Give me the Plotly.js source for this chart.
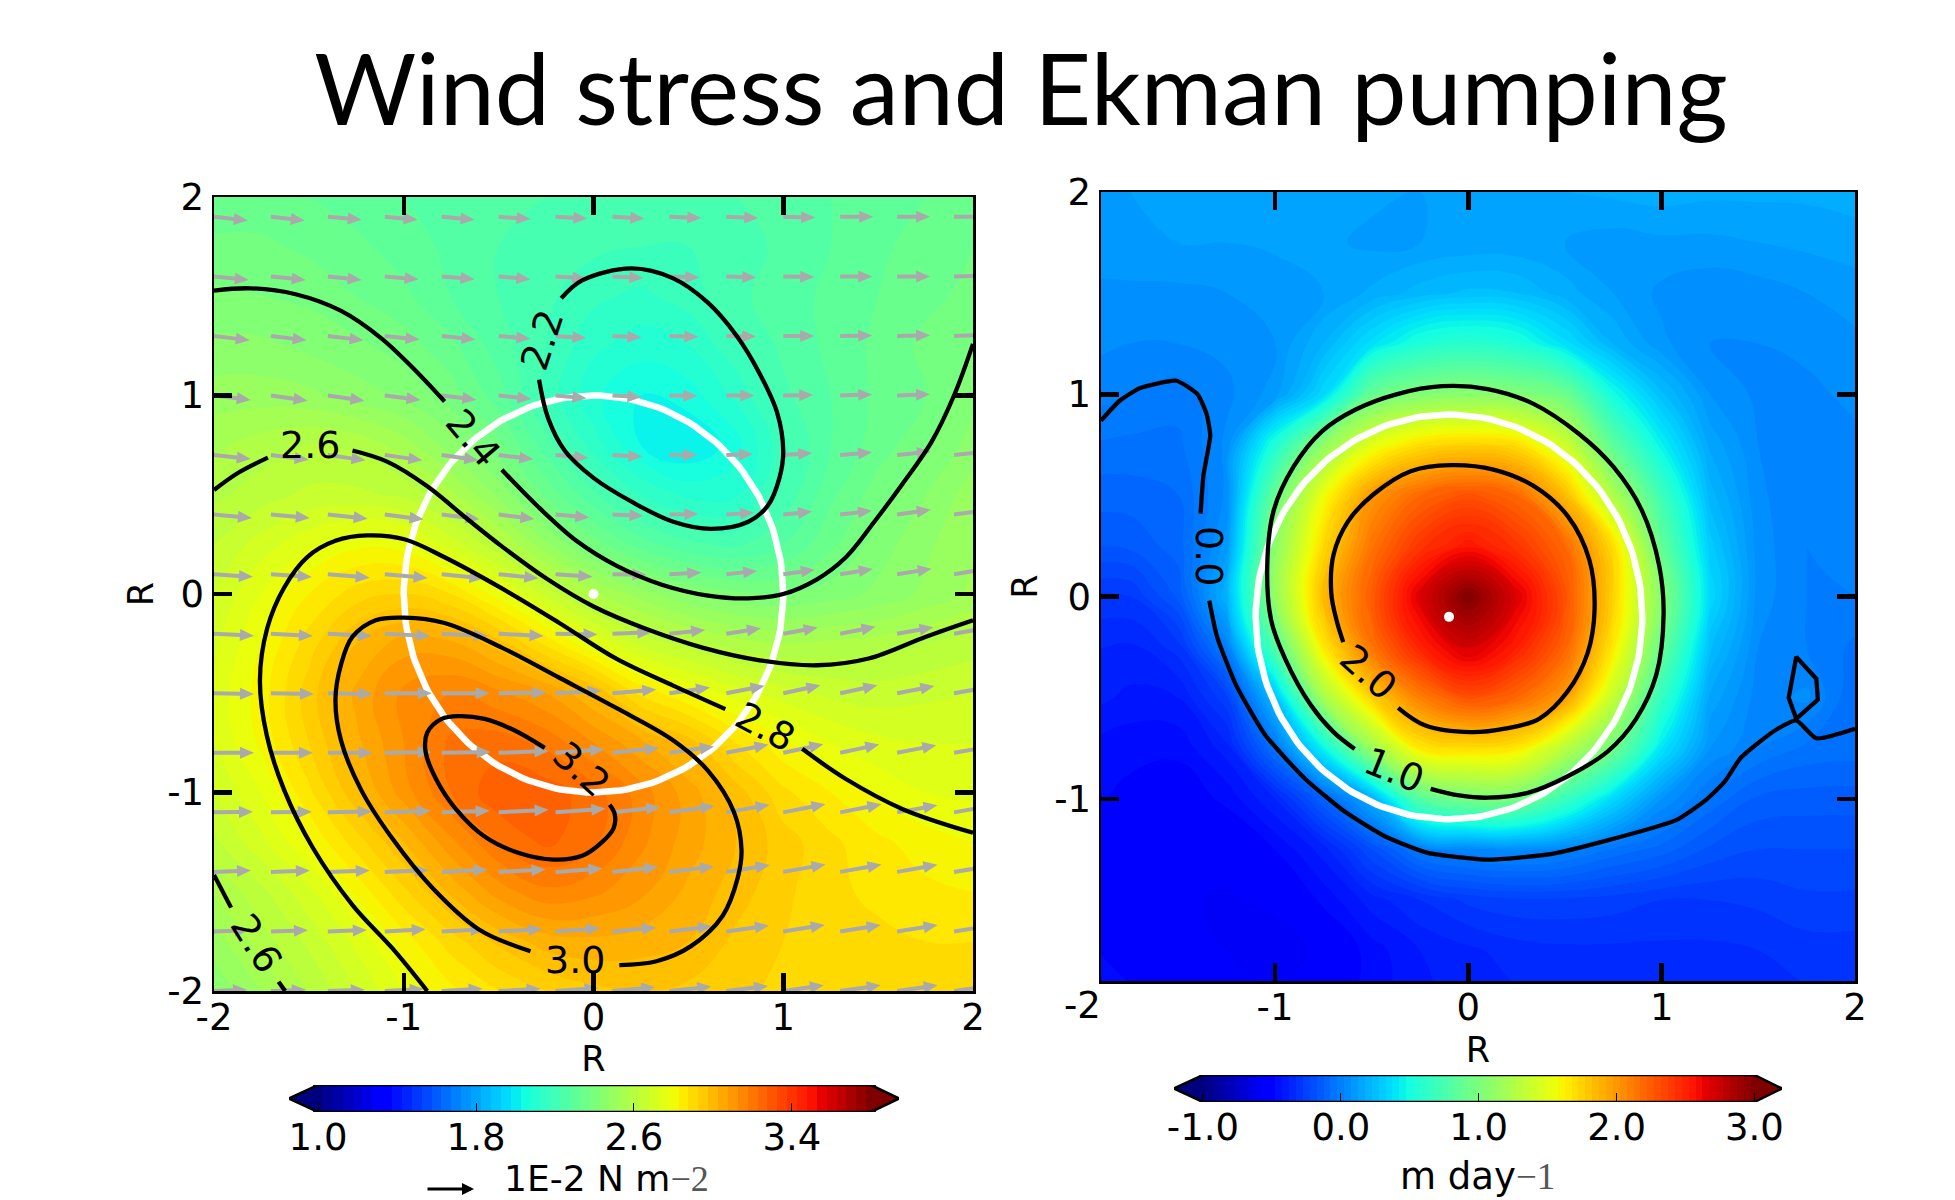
<!DOCTYPE html>
<html><head><meta charset="utf-8">
<script src="https://cdn.plot.ly/plotly-3.0.1.min.js"></script>
<style>html,body{margin:0;padding:0;background:#fff}</style></head>
<body><div id="chart" style="width:1955px;height:1200px"></div>
<script>
// ---------- data ----------
const gridX=[-2,-1.75,-1.5,-1.25,-1,-.75,-.5,-.25,0,.25,.5,.75,1,1.25,1.5,1.75,2];
const gridY=[2,1.75,1.5,1.25,1,.75,.5,.25,0,-.25,-.5,-.75,-1,-1.25,-1.5,-1.75,-2];
const stressZ=[
[2.33,2.33,2.32,2.30,2.28,2.26,2.25,2.24,2.23,2.23,2.23,2.24,2.26,2.28,2.30,2.32,2.34],
[2.37,2.37,2.35,2.33,2.30,2.27,2.24,2.22,2.21,2.20,2.20,2.22,2.25,2.28,2.31,2.34,2.36],
[2.41,2.40,2.39,2.36,2.33,2.28,2.24,2.21,2.17,2.15,2.18,2.23,2.26,2.29,2.32,2.35,2.37],
[2.45,2.45,2.43,2.41,2.38,2.33,2.26,2.20,2.13,2.10,2.12,2.19,2.25,2.29,2.33,2.37,2.40],
[2.50,2.50,2.49,2.46,2.43,2.38,2.30,2.19,2.09,2.04,2.06,2.13,2.23,2.28,2.33,2.36,2.43],
[2.55,2.58,2.60,2.59,2.54,2.46,2.37,2.26,2.14,2.04,2.00,2.06,2.19,2.28,2.34,2.39,2.46],
[2.59,2.62,2.65,2.65,2.63,2.57,2.47,2.35,2.25,2.16,2.11,2.11,2.21,2.31,2.38,2.44,2.50],
[2.64,2.70,2.75,2.79,2.78,2.70,2.61,2.49,2.38,2.30,2.25,2.23,2.28,2.35,2.42,2.47,2.52],
[2.68,2.76,2.84,2.90,2.92,2.88,2.78,2.67,2.57,2.50,2.44,2.41,2.40,2.42,2.45,2.49,2.53],
[2.71,2.80,2.90,3.00,3.06,3.05,2.98,2.87,2.76,2.67,2.62,2.58,2.56,2.57,2.58,2.60,2.62],
[2.73,2.82,2.94,3.05,3.13,3.16,3.13,3.08,3.00,2.87,2.80,2.74,2.70,2.67,2.66,2.67,2.68],
[2.72,2.81,2.92,3.03,3.12,3.21,3.22,3.19,3.12,3.05,2.98,2.88,2.81,2.76,2.73,2.72,2.72],
[2.68,2.76,2.87,2.99,3.10,3.20,3.27,3.26,3.22,3.14,3.06,2.98,2.89,2.84,2.79,2.76,2.75],
[2.63,2.71,2.80,2.90,3.00,3.11,3.20,3.25,3.21,3.13,3.06,3.00,2.94,2.89,2.85,2.82,2.80],
[2.56,2.63,2.71,2.81,2.91,3.01,3.10,3.15,3.13,3.09,3.03,2.98,2.93,2.89,2.87,2.85,2.84],
[2.50,2.58,2.65,2.73,2.82,2.90,2.97,3.02,3.03,3.02,3.00,2.95,2.92,2.90,2.89,2.88,2.88],
[2.45,2.52,2.60,2.68,2.76,2.83,2.88,2.92,2.95,2.96,2.95,2.93,2.91,2.90,2.90,2.90,2.90]];
const pumpZ=[
[.10,.12,.14,.15,.16,.15,.13,.12,.13,.14,.16,.17,.18,.17,.17,.17,.18],
[.10,.11,.12,.12,.13,.13,.11,.12,.13,.13,.12,.10,.11,.11,.12,.13,.14],
[.07,.07,.07,.08,.09,.12,.17,.22,.25,.24,.18,.12,.07,.05,.06,.08,.10],
[.05,.04,.04,.05,.08,.20,.38,.55,.60,.55,.38,.20,.09,.04,.04,.05,.07],
[.03,.00,-.02,.03,.10,.35,.90,1.03,1.07,1.04,.93,.50,.25,.08,.03,.03,.05],
[-.04,-.05,-.05,.05,.55,1.10,1.50,1.70,1.75,1.70,1.40,.85,.45,.15,.04,.02,.03],
[-.10,-.10,-.08,.05,.90,1.55,2.00,2.20,2.30,2.20,1.85,1.25,.70,.22,.05,.00,.03],
[-.15,-.15,-.10,.10,1.08,1.72,2.15,2.42,2.55,2.42,2.20,1.70,.88,.30,.06,.00,.02],
[-.28,-.28,-.15,.20,1.12,1.85,2.25,2.68,3.00,2.68,2.30,1.75,1.05,.35,.06,.00,.00],
[-.35,-.37,-.30,.00,.80,1.65,2.15,2.50,2.72,2.52,2.22,1.65,.90,.25,.04,.00,-.05],
[-.38,-.41,-.40,-.25,.25,1.20,1.75,2.10,2.30,2.20,1.98,1.35,.65,.15,.02,.05,-.08],
[-.44,-.47,-.47,-.38,-.05,.45,1.15,1.65,1.70,1.65,1.30,.95,.40,.08,.00,-.05,-.06],
[-.47,-.49,-.51,-.47,-.36,-.12,.18,.82,.98,.97,.68,.35,.08,-.05,-.13,-.14,-.14],
[-.49,-.51,-.53,-.53,-.48,-.38,-.20,-.02,.03,.05,.02,-.05,-.10,-.17,-.20,-.20,-.20],
[-.49,-.52,-.55,-.57,-.54,-.47,-.38,-.32,-.27,-.25,-.25,-.26,-.28,-.28,-.27,-.25,-.25],
[-.47,-.50,-.53,-.56,-.60,-.54,-.46,-.40,-.37,-.34,-.33,-.33,-.33,-.33,-.32,-.30,-.30],
[-.44,-.47,-.50,-.52,-.54,-.51,-.46,-.41,-.38,-.37,-.36,-.33,-.33,-.33,-.33,-.33,-.32]];

const arrowX=[-2,-1.7,-1.4,-1.1,-.8,-.5,-.2,.1,.4,.7,1,1.3,1.6,1.9];
const arrowY=[1.9,1.6,1.3,1,.7,.4,.1,-.2,-.5,-.8,-1.1,-1.4,-1.7,-2];
const arrowAngle=[
[-6,-6,-5,-5,-5,-4,-3,-3,-2,-2,-1,0,0,0],
[-6,-6,-6,-5,-5,-5,-4,-3,-2,-2,-1,0,0,1],
[-7,-7,-7,-6,-6,-5,-4,-3,-2,-1,0,1,1,2],
[-7,-8,-8,-7,-7,-6,-5,-3,-1,0,1,2,2,3],
[-6,-7,-8,-8,-8,-7,-5,-3,0,2,4,5,6,6],
[-5,-5,-6,-7,-7,-7,-5,-2,1,4,6,7,8,8],
[-4,-4,-5,-5,-6,-6,-4,-1,3,6,8,9,9,9],
[-3,-3,-3,-3,-3,-3,-1,2,6,9,10,11,10,10],
[-1,-1,-1,0,0,1,3,5,8,11,12,12,11,10],
[0,0,0,1,1,2,4,6,8,11,12,12,11,10],
[1,1,1,2,2,3,4,6,8,10,11,11,10,10],
[2,2,2,2,3,3,4,6,7,9,10,10,10,9],
[2,2,2,3,3,3,4,5,7,8,9,9,9,9],
[2,2,2,3,3,3,4,5,6,7,8,8,8,8]];
const arrowLen=[
[34,34,34,33,33,32,32,32,32,32,32,33,33,34],
[35,35,34,34,33,32,31,31,30,30,31,32,33,34],
[36,36,36,35,34,32,31,29,29,30,31,32,33,34],
[37,37,37,36,35,33,31,29,28,28,30,32,33,35],
[37,38,38,38,37,35,33,30,28,27,29,32,34,36],
[38,39,40,39,38,36,34,31,29,28,29,32,34,36],
[39,41,42,43,42,40,37,34,32,31,32,33,35,37],
[40,42,44,46,46,45,42,39,36,35,35,36,37,38],
[40,43,45,47,48,48,46,44,41,39,38,38,38,39],
[40,42,45,47,49,50,49,47,45,43,41,40,40,40],
[39,41,44,46,48,50,50,48,46,44,43,42,41,41],
[37,39,42,44,46,47,47,46,45,44,43,42,41,41],
[35,37,39,41,43,44,45,44,43,43,42,41,41,41],
[33,35,37,39,41,42,43,43,42,42,41,41,41,41]];

// contour lines, [x,y] pairs
const c22=[[-.17,1.49],[-.06,1.58],[.2,1.64],[.42,1.59],[.6,1.47],[.755,1.3],[.876,1.11],[.967,.916],[1,.72],[.98,.585],[.92,.447],[.816,.364],[.62,.328],[.42,.364],[.21,.46],[0,.585],[-.15,.72],[-.24,.888],[-.287,1.08]];
const c24a=[[-2,1.528],[-1.81,1.54],[-1.57,1.51],[-1.33,1.426],[-1.118,1.288],[-.95,1.137],[-.785,.97]];
const c24b=[[-.483,.626],[-.3,.447],[-.09,.268],[.12,.143],[.36,.047],[.604,-.008],[.816,-.022],[1,0],[1.178,.074],[1.33,.185],[1.48,.364],[1.63,.557],[1.78,.764],[1.9,1],[2,1.26]];
const c26a=[[-2,.524],[-1.87,.612],[-1.716,.687]];
const c26b=[[-1.27,.723],[-1.088,.667],[-.876,.543],[-.665,.378],[-.483,.24],[-.242,.074],[0,-.063],[.272,-.174],[.574,-.27],[.876,-.334],[1.178,-.359],[1.45,-.325],[1.752,-.215],[2,-.132]];
const c26c=[[-2,-1.415],[-1.91,-1.58]];
const c26d=[[-1.66,-1.953],[-1.625,-2]];
const c28a=[[1.1,-.78],[1.33,-.932],[1.63,-1.084],[2,-1.203]];
const c28b=[[.695,-.58],[.423,-.463],[.12,-.326],[-.18,-.146],[-.483,.028],[-.785,.185],[-.997,.276],[-1.193,.295],[-1.36,.268],[-1.51,.185],[-1.63,.033],[-1.72,-.174],[-1.758,-.436],[-1.722,-.712],[-1.63,-.988],[-1.48,-1.277],[-1.27,-1.567],[-1.057,-1.788],[-.876,-2]];
const c30=[[.136,-1.87],[.332,-1.85],[.514,-1.774],[.68,-1.622],[.76,-1.43],[.78,-1.29],[.74,-1.098],[.604,-.891],[.423,-.739],[.12,-.574],[-.18,-.422],[-.483,-.27],[-.785,-.146],[-.997,-.119],[-1.148,-.132],[-1.27,-.215],[-1.33,-.353],[-1.36,-.532],[-1.33,-.74],[-1.224,-.988],[-1.057,-1.236],[-.846,-1.484],[-.604,-1.69],[-.332,-1.8]];
const c32=[[-.257,-.775],[-.423,-.684],[-.574,-.629],[-.71,-.615],[-.8,-.629],[-.876,-.698],[-.885,-.794],[-.83,-.932],[-.725,-1.084],[-.574,-1.222],[-.393,-1.305],[-.21,-1.338],[-.06,-1.319],[.045,-1.25],[.106,-1.18],[.112,-1.11],[.085,-1.062]];

const p00a=[[-1.9,.87],[-1.805,.967],[-1.7,1.03],[-1.51,1.067],[-1.4,1],[-1.353,.9],[-1.335,.796],[-1.37,.6],[-1.385,.41]];
const p00b=[[-1.34,-.02],[-1.3,-.198],[-1.2,-.44],[-1.05,-.685],[-.845,-.9],[-.638,-1.064],[-.43,-1.186],[-.21,-1.267],[.1,-1.3],[.425,-1.273],[.72,-1.205],[1.075,-1.105],[1.223,-1.01],[1.326,-.915],[1.406,-.8],[1.504,-.72],[1.592,-.658],[1.696,-.612],[1.8,-.7],[2,-.653]];
const p00c=[[1.696,-.604],[1.657,-.5],[1.696,-.298],[1.8,-.406],[1.808,-.509],[1.696,-.604]];
const p10=[[-.195,-.95],[-.047,-.983],[.1,-.994],[.307,-.97],[.514,-.888],[.72,-.766],[.868,-.604],[.972,-.387],[1.01,-.089],[.987,.154],[.898,.425],[.75,.642],[.573,.804],[.337,.953],[.1,1.026],[-.136,1.04],[-.372,1],[-.58,.926],[-.756,.818],[-.904,.642],[-1.007,.425],[-1.04,.154],[-1.02,-.116],[-.948,-.306],[-.815,-.536],[-.697,-.67],[-.588,-.753]];
const p20=[[-.363,-.55],[-.225,-.636],[.012,-.67],[.189,-.653],[.366,-.604],[.514,-.468],[.617,-.279],[.653,-.062],[.626,.181],[.514,.398],[.337,.547],[.13,.628],[-.09,.65],[-.298,.62],[-.49,.506],[-.623,.371],[-.697,.208],[-.709,.019],[-.682,-.116],[-.647,-.225]];

// contour labels: text, x, y, rotation
const stressLabels=[["2.2",-.27,1.28,-72],["2.4",-.634,.786,50],["2.6",-1.495,.75,0],["2.6",-1.78,-1.76,58],["2.8",.906,-.67,28],["3.0",-.097,-1.843,0],["3.2",-.066,-.883,42]];
const pumpLabels=[["0.0",-1.34,.2,90],["1.0",-.387,-.856,22],["2.0",-.52,-.374,42]];
const tickVals=[-2,-1,0,1,2];
const pumpXTicks=[-1,0,1,2], pumpYTicks=[-1,0,1,2];
const stressBarTicks=[1.0,1.8,2.6,3.4], pumpBarTicks=[-1,0,1,2,3];

// ---------- build ----------
const W=1955,H=1200;
const px=x=>x/W, py=y=>1-y/H;
const dom=(a,b)=>[px(a),px(b)], domY=(t,b)=>[py(b),py(t)];
const L={x0:214,x1:973,y0:197,y1:991}, R={x0:1101,x1:1855,y0:192,y1:981};
const jet=[[0,'rgb(0,0,127)'],[.11,'rgb(0,0,255)'],[.125,'rgb(0,0,255)'],[.34,'rgb(0,219,255)'],[.35,'rgb(0,229,247)'],[.375,'rgb(20,255,226)'],[.64,'rgb(238,255,8)'],[.65,'rgb(247,245,0)'],[.66,'rgb(255,236,0)'],[.89,'rgb(255,19,0)'],[.91,'rgb(232,0,0)'],[1,'rgb(127,0,0)']];
const BLK='#000', FF='"DejaVu Sans", sans-serif', FS=37;

function field(z,xa,ya,lo,hi){return {type:'contour',x:gridX,y:gridY,z:z,xaxis:xa,yaxis:ya,colorscale:jet,zauto:false,zmin:lo,zmax:hi,autocontour:false,
  contours:{coloring:'fill',start:lo,end:hi,size:.04,showlines:false},line:{width:0,smoothing:1.3},showscale:false,hoverinfo:'skip'};}
function circle(cx,cy,xa,ya){const xs=[],ys=[];for(let i=0;i<=180;i++){const t=i*Math.PI/90;xs.push(cx+Math.cos(t));ys.push(cy+Math.sin(t));}
  return {type:'scatter',mode:'lines',x:xs,y:ys,xaxis:xa,yaxis:ya,line:{color:'#fff',width:6.5},hoverinfo:'skip',showlegend:false};}
function poly(pts,xa,ya,smooth){return {type:'scatter',mode:'lines',x:pts.map(p=>p[0]),y:pts.map(p=>p[1]),xaxis:xa,yaxis:ya,
  line:{color:BLK,width:4.3,shape:smooth?'spline':'linear',smoothing:smooth||0},hoverinfo:'skip',showlegend:false};}
function dot(x,y,xa,ya){return {type:'scatter',mode:'markers',x:[x],y:[y],xaxis:xa,yaxis:ya,marker:{color:'#fff',size:10},hoverinfo:'skip',showlegend:false};}
function quiver(){const sx=(L.x1-L.x0)/4,sy=(L.y1-L.y0)/4,xs=[],ys=[];const w=2,hw=6,hl=14;
  arrowY.forEach((ay,r)=>arrowX.forEach((ax,c)=>{const a=arrowAngle[r][c]*Math.PI/180,l=arrowLen[r][c],ca=Math.cos(a),sa=Math.sin(a);
    [[0,-w],[l-hl,-w],[l-hl,-hw],[l,0],[l-hl,hw],[l-hl,w],[0,w],[0,-w]].forEach(p=>{xs.push(ax+(p[0]*ca-p[1]*sa)/sx);ys.push(ay+(p[0]*sa+p[1]*ca)/sy);});
    xs.push(null);ys.push(null);}));
  return {type:'scatter',mode:'lines',x:xs,y:ys,xaxis:'x',yaxis:'y',fill:'toself',fillcolor:'#aaaaaa',line:{width:0,color:'#aaaaaa'},hoverinfo:'skip',showlegend:false};}
function bar(lo,hi,xa,ya,tipLo,tipHi){const z=[],xs=[];for(let v=lo;v<=hi+1e-9;v+=.05){xs.push(v);z.push(v);}
  return [{type:'heatmap',x:xs,y:[0,1],z:[z,z],xaxis:xa,yaxis:ya,colorscale:jet,zauto:false,zmin:lo,zmax:hi,showscale:false,hoverinfo:'skip'},
   {type:'scatter',mode:'lines',x:[tipLo,lo,lo,tipLo],y:[.5,1,0,.5],xaxis:xa,yaxis:ya,fill:'toself',fillcolor:'rgb(0,0,127)',line:{width:0},hoverinfo:'skip',showlegend:false},
   {type:'scatter',mode:'lines',x:[tipHi,hi,hi,tipHi],y:[.5,1,0,.5],xaxis:xa,yaxis:ya,fill:'toself',fillcolor:'rgb(127,0,0)',line:{width:0},hoverinfo:'skip',showlegend:false},
   {type:'scatter',mode:'lines',x:[tipLo,lo,hi,tipHi,hi,lo,tipLo],y:[.5,1,1,.5,0,0,.5],xaxis:xa,yaxis:ya,line:{color:BLK,width:2.5},cliponaxis:false,hoverinfo:'skip',showlegend:false}];}

const traces=[
 field(stressZ,'x','y',1,3.8),circle(0,0,'x','y'),quiver(),
 ...[[c22,1],[c24a,1],[c24b,1],[c26a,1],[c26b,1],[c26c,0],[c26d,0],[c28a,1],[c28b,1],[c30,1],[c32,1]].map(d=>poly(d[0],'x','y',d[1])),
 dot(0,0,'x','y'),
 field(pumpZ,'x2','y2',-1,3),circle(-.1,-.1,'x2','y2'),
 ...[[p00a,.5],[p00b,.5],[p00c,0],[p10,1],[p20,1]].map(d=>poly(d[0],'x2','y2',d[1])),
 dot(-.1,-.1,'x2','y2'),
 ...bar(1,3.8,'x3','y3',.853,3.942),
 ...bar(-1,3,'x4','y4',-1.21,3.2)
];

function ax(range,domain,anchor,vals,title,standoff,labelOff){return {range:range,domain:domain,anchor:anchor,tickmode:'array',tickvals:vals,ticktext:vals.map(String),
  ticks:'inside',ticklen:18,tickwidth:4.5,tickcolor:BLK,showline:true,linewidth:2.5,linecolor:BLK,mirror:'ticks',showgrid:false,zeroline:false,
  tickfont:{family:FF,size:FS,color:BLK},ticklabelstandoff:labelOff,title:{text:title,font:{family:FF,size:35,color:BLK},standoff:standoff}};}
function barX(range,domain,anchor,vals,labels){return {range:range,domain:domain,anchor:anchor,tickmode:'array',tickvals:vals,ticktext:labels,ticks:'inside',ticklen:9,tickwidth:1,tickcolor:BLK,
  showline:false,showgrid:false,zeroline:false,tickfont:{family:FF,size:37,color:BLK},ticklabelstandoff:0};}
const barY=(dm,anchor)=>({range:[0,1],domain:dm,anchor:anchor,showticklabels:false,ticks:'',showgrid:false,zeroline:false,showline:false});

const anns=[];
const txt=(t,x,y,size,extra)=>anns.push(Object.assign({text:t,xref:'paper',yref:'paper',x:px(x),y:py(y),xanchor:'center',yanchor:'middle',showarrow:false,borderpad:0,font:{family:FF,size:size,color:BLK}},extra||{}));
stressLabels.forEach(l=>anns.push({text:l[0],x:l[1],y:l[2],xref:'x',yref:'y',textangle:l[3],showarrow:false,font:{family:FF,size:38,color:BLK}}));
pumpLabels.forEach(l=>anns.push({text:l[0],x:l[1],y:l[2],xref:'x2',yref:'y2',textangle:l[3],showarrow:false,font:{family:FF,size:38,color:BLK}}));
txt('-2',1082,1005,FS);
const mathPart=s=>'<span style="color:#555;font-family:\'Liberation Serif\',serif">'+s+'</span>';
txt('1E-2 N m'+mathPart('−2'),606,1200,36,{yanchor:'bottom'});
txt('m day'+mathPart('−1'),1477,1176,37);
anns.push({xref:'paper',yref:'paper',x:px(474),y:py(1189),ax:-48,ay:0,axref:'pixel',ayref:'pixel',text:'',showarrow:true,arrowhead:2,arrowsize:.8,arrowwidth:3,arrowcolor:BLK,standoff:0,startstandoff:0});

const layout={width:W,height:H,margin:{l:0,r:0,t:0,b:0},paper_bgcolor:'#fff',plot_bgcolor:'#fff',showlegend:false,
 title:{text:'Wind stress and Ekman pumping',x:px(1021),xanchor:'center',y:py(90),yanchor:'middle',font:{family:'Lato, "Open Sans", sans-serif',size:98.6,color:BLK}},
 xaxis:ax([-2,2],dom(L.x0,L.x1),'y',tickVals,'R',8,-8),
 yaxis:ax([-2,2],domY(L.y0,L.y1),'x',tickVals,'R',3,0),
 xaxis2:ax([-1.9,2],dom(R.x0,R.x1),'y2',pumpXTicks,'R',10,-8),
 yaxis2:ax([-1.9,2],domY(R.y0,R.y1),'x2',pumpYTicks,'R',6,0),
 xaxis3:barX([.853,3.942],dom(289,899),'y3',stressBarTicks,['1.0','1.8','2.6','3.4']),
 yaxis3:barY(domY(1085,1112),'x3'),
 xaxis4:barX([-1.21,3.2],dom(1174,1782),'y4',pumpBarTicks,['-1.0','0.0','1.0','2.0','3.0']),
 yaxis4:barY(domY(1075,1102),'x4'),
 annotations:anns};
Plotly.newPlot('chart',traces,layout,{staticPlot:true,displayModeBar:false});
</script></body></html>
